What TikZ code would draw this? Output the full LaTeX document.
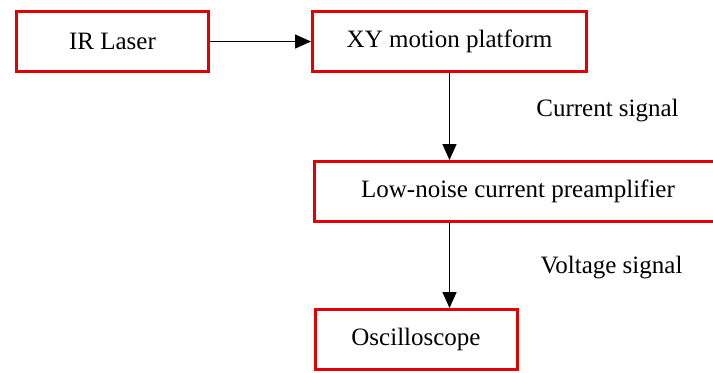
\documentclass[tikz,border=0pt]{standalone}
\usepackage{fontspec}
\setmainfont{Liberation Serif}
\newfontfamily\labelfont{Liberation Serif}
\usetikzlibrary{arrows.meta}
\definecolor{boxred}{RGB}{228,0,0}
\tikzset{
  block/.style={draw=boxred, line width=1.5pt, fill=white, inner sep=0pt,
    minimum height=30pt, font=\labelfont\fontsize{12.5}{15}\selectfont},
  flow/.style={line width=0.75pt, -{Triangle[length=8pt,width=7pt]}},
  note/.style={font=\labelfont\fontsize{12.5}{15}\selectfont}
}
\begin{document}
\begin{tikzpicture}[x=0.5pt, y=-0.5pt]
  \useasboundingbox (0,0) rectangle (713,372);
  % the four blocks
  \node[block, minimum width=96pt] (laser) at (112.5,41.5) {IR Laser};
  \node[block, minimum width=137pt] (xy) at (449.5,41.5) {XY motion platform};
  \node[block, minimum width=204pt] (amp) at (518,191.5) {Low-noise current preamplifier};
  \node[block, minimum width=101pt] (osc) at (416,339.5) {Oscilloscope};
  % signal path
  \draw[flow] (laser.east) -- (xy.west);
  \draw[flow] (xy.south) -- (xy.south |- amp.north)
    node[note, midway, xshift=79pt, yshift=3pt] {Current signal};
  \draw[flow] (xy.south |- amp.south) -- (xy.south |- osc.north)
    node[note, midway, xshift=81pt, yshift=-1pt] {Voltage signal};
\end{tikzpicture}
\end{document}
